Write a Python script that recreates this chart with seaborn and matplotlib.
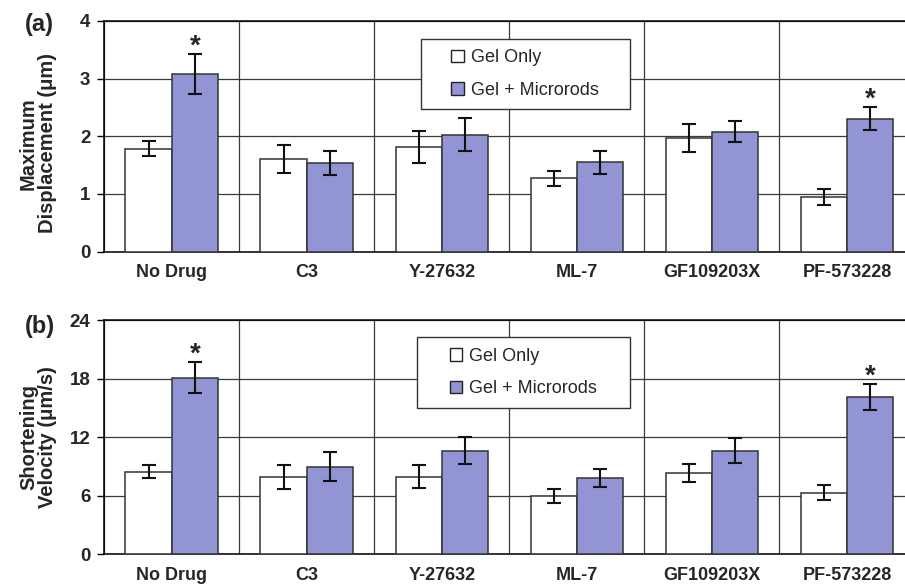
import matplotlib
matplotlib.use("Agg")
import matplotlib.pyplot as plt
from matplotlib.patches import Rectangle, Patch
import seaborn as sns
import pandas as pd
import numpy as np

# ---- data ----
drugs = ["No Drug", "C3", "Y-27632", "ML-7", "GF109203X", "PF-573228"]
groups = ["Gel Only", "Gel + Microrods"]

disp_gel = [1.78, 1.61, 1.81, 1.27, 1.97, 0.94]
disp_gel_err = [0.13, 0.24, 0.28, 0.13, 0.24, 0.14]
disp_rod = [3.08, 1.53, 2.03, 1.55, 2.08, 2.30]
disp_rod_err = [0.34, 0.21, 0.28, 0.20, 0.18, 0.20]

vel_gel = [8.44, 7.93, 7.93, 5.95, 8.27, 6.29]
vel_gel_err = [0.68, 1.25, 1.18, 0.67, 0.92, 0.77]
vel_rod = [18.08, 8.96, 10.60, 7.76, 10.60, 16.07]
vel_rod_err = [1.60, 1.50, 1.40, 0.92, 1.25, 1.33]

significant = [True, False, False, False, False, True]

disp_ticks = [0, 1, 2, 3, 4]
vel_ticks = [0, 6, 12, 18, 24]

# ---- style ----
sns.set_style("white")
plt.rcParams["font.family"] = ["Liberation Sans", "DejaVu Sans"]

colors = ["#FFFFFF", "#9294D4"]
edge = "#333333"
grid_c = "#3a3a3a"

fig = plt.figure(figsize=(9.05, 5.86), dpi=100)
ax_a = fig.add_axes([0.1152, 0.5708, 0.8848, 0.3934])
ax_b = fig.add_axes([0.1152, 0.0546, 0.8848, 0.3993])


def make_df(g, r):
    return pd.DataFrame({
        "drug": drugs * 2,
        "group": [groups[0]] * len(drugs) + [groups[1]] * len(drugs),
        "value": list(g) + list(r),
    })


def panel(ax, g, ge, r, re, ticks, ylabel, label_y, legend_box):
    df = make_df(g, r)
    sns.barplot(data=df, x="drug", y="value", hue="group", order=drugs,
                hue_order=groups, palette=colors, saturation=1, width=0.686, gap=0,
                errorbar=None, edgecolor=edge, linewidth=1.1, legend=False,
                ax=ax, zorder=3)
    errs = [ge, re]
    tops = []
    for cont, err, vals in zip(ax.containers, errs, [g, r]):
        xs = [b.get_x() + b.get_width() / 2 for b in cont]
        ax.errorbar(xs, vals, yerr=err, fmt="none", ecolor="#111111",
                    elinewidth=1.5, capsize=5, capthick=1.5, zorder=4)
        tops.append([v + e for v, e in zip(vals, err)])
    rod_xs = [b.get_x() + b.get_width() / 2 for b in ax.containers[1]]
    for x, t, s in zip(rod_xs, tops[1], significant):
        if s:
            ax.annotate("*", (x, t), xytext=(0, 5.5), textcoords="offset points",
                        ha="center", va="center", fontsize=20,
                        fontweight="bold", zorder=5)

    ax.set_ylim(ticks[0], ticks[-1])
    ax.set_yticks(ticks)
    ax.set_xlim(-0.5, 5.43)
    ax.set_xticks(np.arange(len(drugs)))
    ax.set_xticks(np.arange(len(drugs)) - 0.5, minor=True)
    ax.set_xticklabels(drugs, fontsize=13, fontweight="bold")
    for lab in ax.get_yticklabels():
        lab.set_fontweight("bold")
        lab.set_fontsize(13.5)
    ax.tick_params(axis="x", which="major", length=0, pad=9)
    ax.tick_params(axis="x", which="minor", length=5, width=1, color="black", direction="out")
    ax.tick_params(axis="y", length=5, width=1, color="black", direction="out", pad=5, left=True)
    ax.grid(True, axis="y", which="major", color=grid_c, lw=0.9, zorder=0)
    ax.grid(True, axis="x", which="minor", color=grid_c, lw=0.9, zorder=0)
    ax.grid(False, axis="x", which="major")
    ax.set_axisbelow(True)
    for side in ["left", "bottom", "top"]:
        ax.spines[side].set_visible(True)
        ax.spines[side].set_color("black")
        ax.spines[side].set_linewidth(1.1)
    ax.spines["right"].set_visible(False)
    ax.set_xlabel("")
    ax.set_ylabel(ylabel, fontsize=14.5, fontweight="bold", linespacing=1.0)
    ax.yaxis.set_label_coords(-0.059, label_y)

    # legend frame + content
    x0, y0, x1, y1 = legend_box
    ax.add_patch(Rectangle((x0, y0), x1 - x0, y1 - y0, transform=ax.transAxes,
                           facecolor="white", edgecolor="#333333", lw=1.0, zorder=6))
    handles = [Patch(facecolor=c, edgecolor="#222222", lw=1.0) for c in colors]
    leg = ax.legend(handles, groups, loc="center",
                    bbox_to_anchor=((x0 + x1) / 2, (y0 + y1) / 2),
                    bbox_transform=ax.transAxes, frameon=False, fontsize=13,
                    handlelength=0.7, handleheight=0.7, handletextpad=0.4,
                    labelspacing=0.85, borderpad=0)
    leg.set_zorder(7)


panel(ax_a, disp_gel, disp_gel_err, disp_rod, disp_rod_err, disp_ticks,
      "Maximum\nDisplacement (\u03bcm)", 0.47, (0.395, 0.618, 0.656, 0.922))
panel(ax_b, vel_gel, vel_gel_err, vel_rod, vel_rod_err, vel_ticks,
      "Shortening\nVelocity (\u03bcm/s)", 0.5, (0.391, 0.623, 0.656, 0.926))

fig.text(0.044, 0.958, "(a)", fontsize=17, fontweight="bold", ha="center", va="center")
fig.text(0.044, 0.443, "(b)", fontsize=17, fontweight="bold", ha="center", va="center")

fig.savefig("out.png", dpi=100)
